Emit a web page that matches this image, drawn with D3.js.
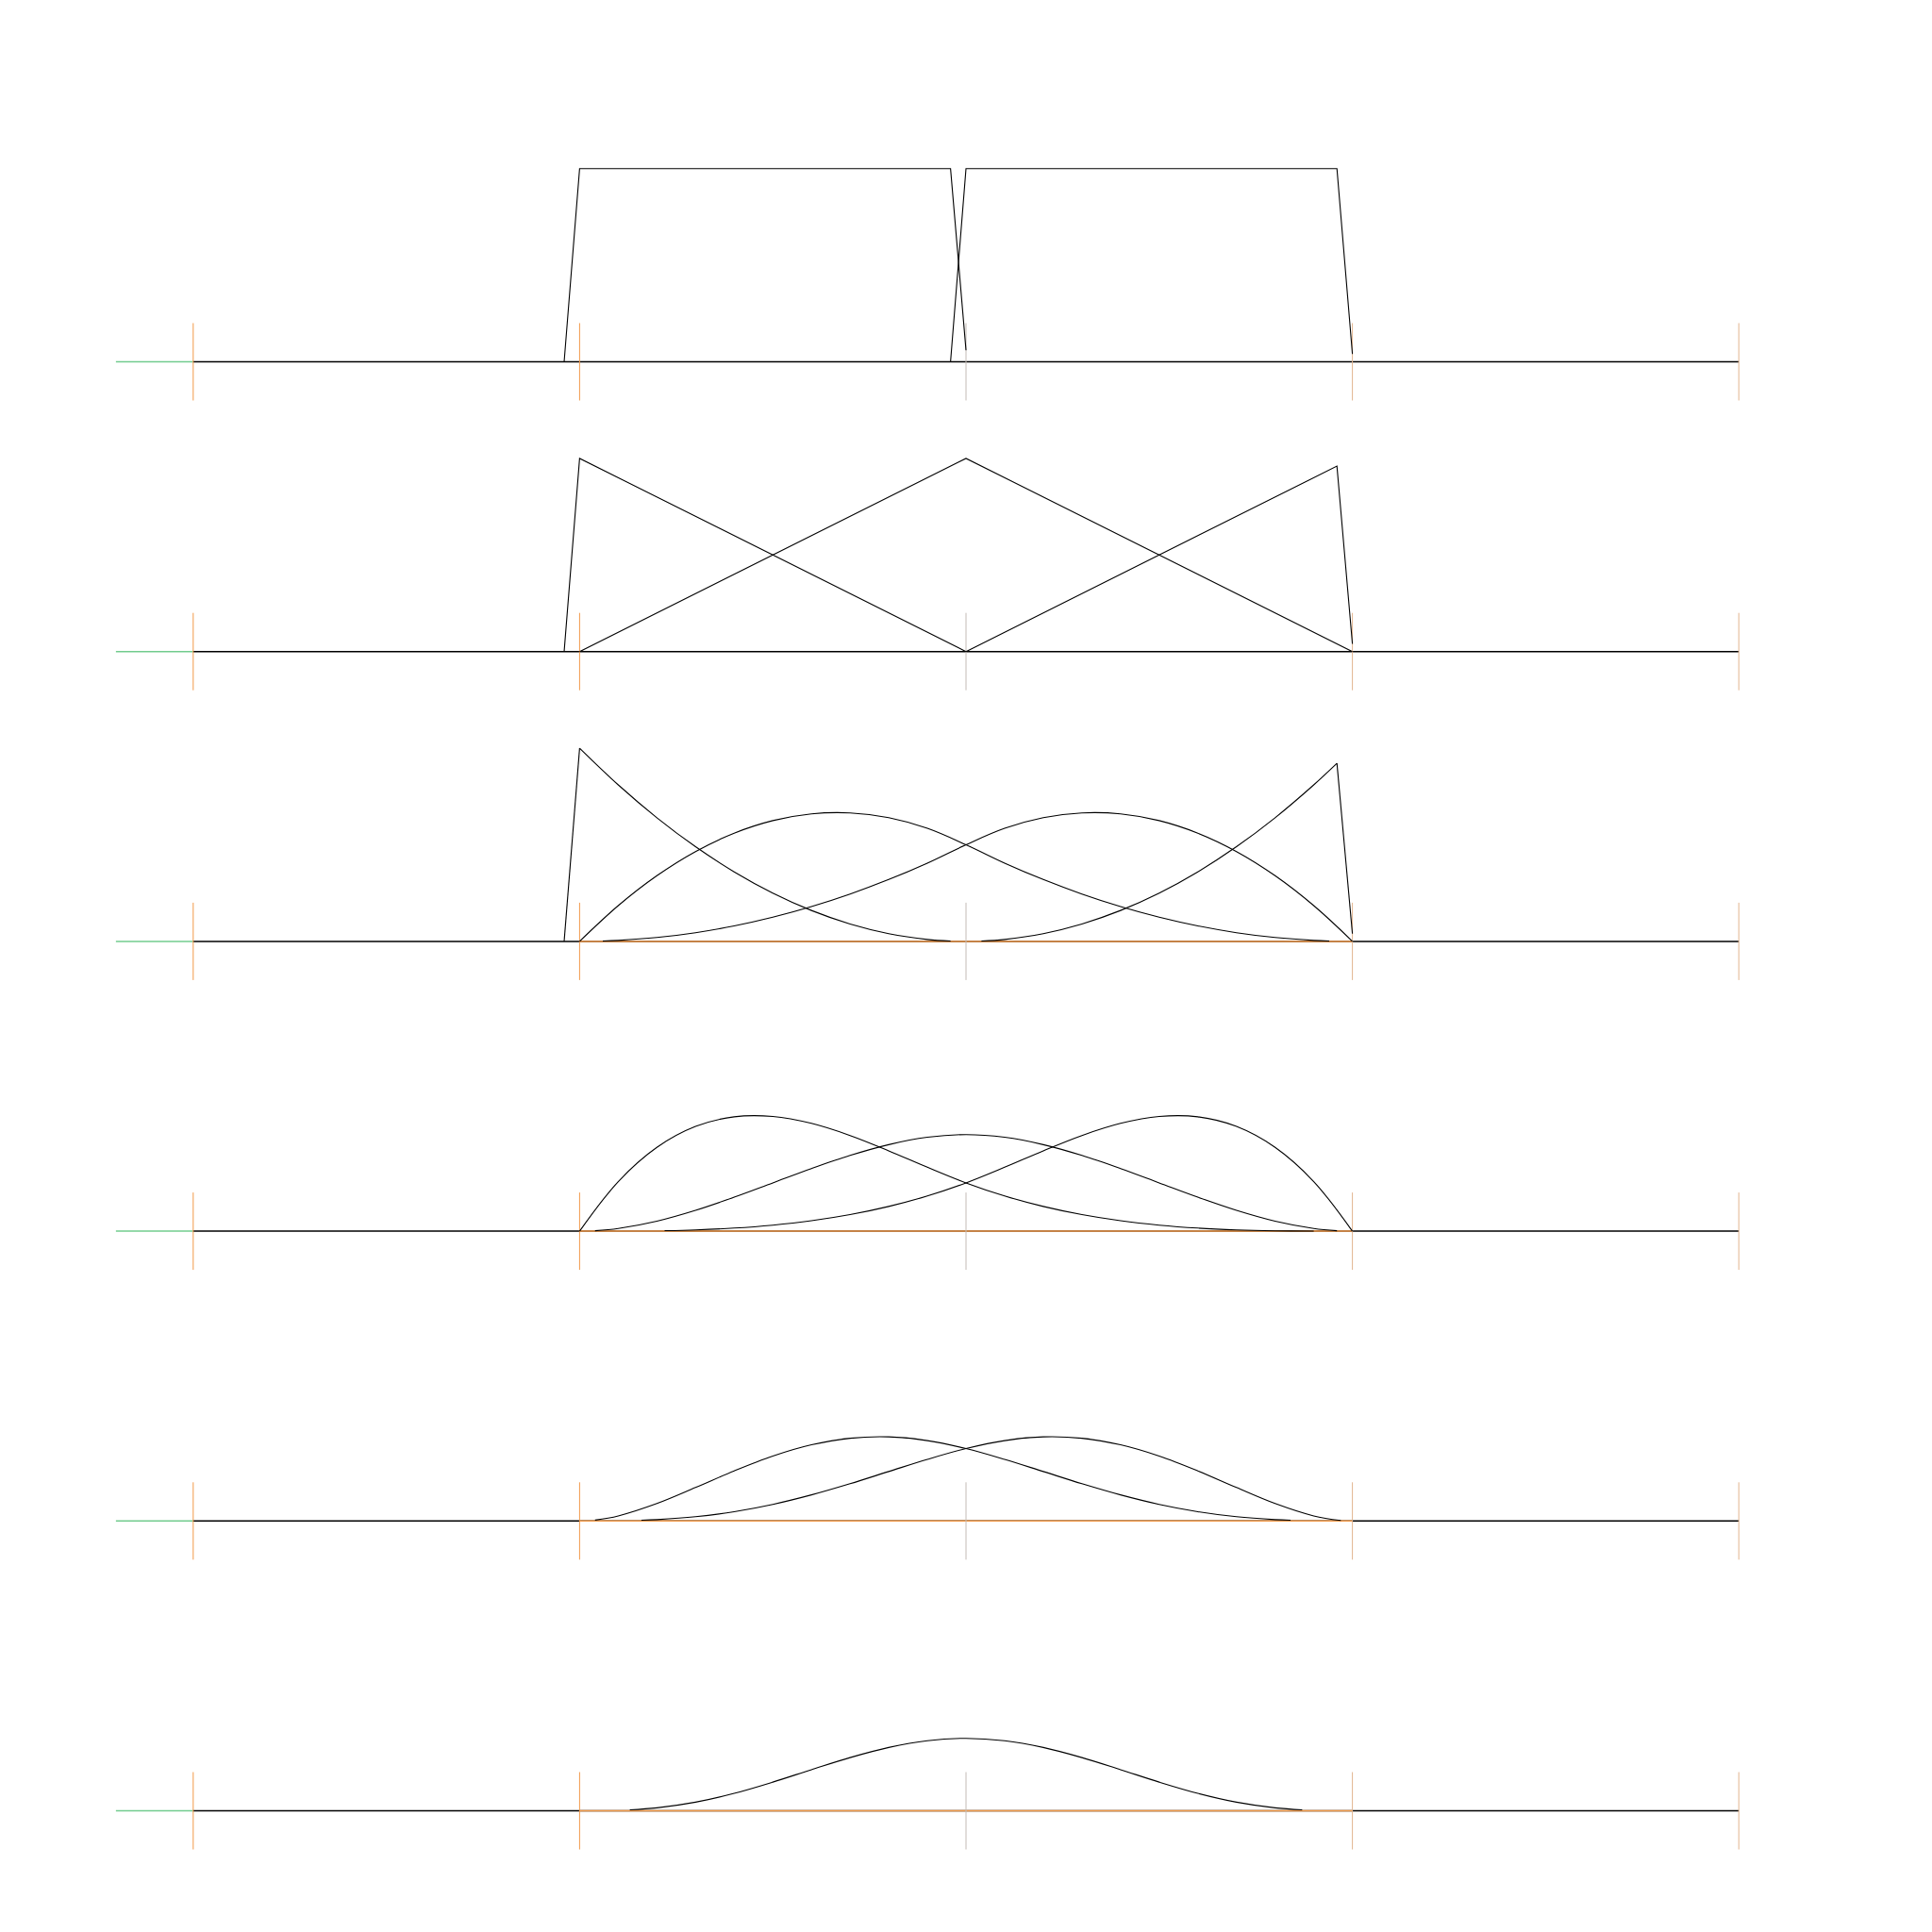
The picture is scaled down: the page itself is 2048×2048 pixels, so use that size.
<!DOCTYPE html>
<html>
<head>
<meta charset="utf-8">
<script src="https://d3js.org/d3.v7.min.js"></script>
<style>
  body { margin: 0; background: #fff; }
</style>
</head>
<body>
<div id="chart"></div>
<script>
// knot positions drawn as ticks, and where the left stub starts
var knotTicks = [0, 1, 2, 3, 4];
var stubStart = -0.2;
var degrees = [0, 1, 2, 3, 4, 5];

// basis functions, [t, value] pairs
var deg0Curves = [
  [[0.96, 0], [1, 1], [1.96, 1], [2, 0.06]],
  [[1.96, 0], [2, 1], [2.96, 1], [3, 0.04]]
];
var deg1Curves = [
  [[0.96, 0], [1, 1], [2, 0]],
  [[1, 0], [2, 1], [3, 0]],
  [[2, 0], [2.96, 0.96], [3, 0.04]]
];
var deg2Curves = [
  [[1, 1], [1.1, 0.81], [1.2, 0.64], [1.3, 0.49], [1.4, 0.36], [1.5, 0.25], [1.6, 0.16], [1.7, 0.09], [1.8, 0.04], [1.9, 0.01], [1.96, 0.0016]],
  [[1, 0], [1.1, 0.185], [1.2, 0.34], [1.3, 0.465], [1.4, 0.56], [1.5, 0.625], [1.6, 0.66], [1.7, 0.665], [1.8, 0.64], [1.9, 0.585], [2, 0.5],
   [2.1, 0.405], [2.2, 0.32], [2.3, 0.245], [2.4, 0.18], [2.5, 0.125], [2.6, 0.08], [2.7, 0.045], [2.8, 0.02], [2.9, 0.005], [2.94, 0.0018]],
  [[1.06, 0.0018], [1.1, 0.005], [1.2, 0.02], [1.3, 0.045], [1.4, 0.08], [1.5, 0.125], [1.6, 0.18], [1.7, 0.245], [1.8, 0.32], [1.9, 0.405], [2, 0.5],
   [2.1, 0.585], [2.2, 0.64], [2.3, 0.665], [2.4, 0.66], [2.5, 0.625], [2.6, 0.56], [2.7, 0.465], [2.8, 0.34], [2.9, 0.185], [3, 0]],
  [[2.04, 0.0016], [2.1, 0.01], [2.2, 0.04], [2.3, 0.09], [2.4, 0.16], [2.5, 0.25], [2.6, 0.36], [2.7, 0.49], [2.8, 0.64], [2.9, 0.81], [2.96, 0.9216]]
];
var deg2Edges = [
  [[0.96, 0], [1, 1]],
  [[2.96, 0.9216], [3, 0.04]]
];
var deg3Curves = [
  [[1, 0], [1.1, 0.2568], [1.2, 0.434], [1.3, 0.5423], [1.4, 0.592], [1.5, 0.5938], [1.6, 0.558], [1.7, 0.4953], [1.8, 0.416], [1.9, 0.3308], [2, 0.25],
   [2.1, 0.1823], [2.2, 0.128], [2.3, 0.0858], [2.4, 0.054], [2.5, 0.0313], [2.6, 0.016], [2.7, 0.0068], [2.8, 0.002], [2.9, 0.0003]],
  [[1.04, 0.0023], [1.1, 0.014], [1.2, 0.052], [1.3, 0.108], [1.4, 0.176], [1.5, 0.25], [1.6, 0.324], [1.7, 0.392], [1.8, 0.448], [1.9, 0.486], [2, 0.5],
   [2.1, 0.486], [2.2, 0.448], [2.3, 0.392], [2.4, 0.324], [2.5, 0.25], [2.6, 0.176], [2.7, 0.108], [2.8, 0.052], [2.9, 0.014], [2.96, 0.0023]],
  [[1.22, 0.0027], [1.3, 0.0068], [1.4, 0.016], [1.5, 0.0313], [1.6, 0.054], [1.7, 0.0858], [1.8, 0.128], [1.9, 0.1823], [2, 0.25],
   [2.1, 0.3308], [2.2, 0.416], [2.3, 0.4953], [2.4, 0.558], [2.5, 0.5938], [2.6, 0.592], [2.7, 0.5423], [2.8, 0.434], [2.9, 0.2568], [3, 0]]
];
var deg4Curves = [
  [[1.04, 0.0045], [1.1, 0.0261], [1.2, 0.0902], [1.3, 0.1731], [1.4, 0.2592], [1.5, 0.3359], [1.6, 0.3942], [1.7, 0.4281], [1.8, 0.4352], [1.9, 0.4161], [2, 0.375],
   [2.1, 0.3189], [2.2, 0.256], [2.3, 0.1929], [2.4, 0.135], [2.5, 0.0859], [2.6, 0.048], [2.7, 0.0219], [2.8, 0.007], [2.84, 0.0037]],
  [[1.16, 0.0037], [1.2, 0.007], [1.3, 0.0219], [1.4, 0.048], [1.5, 0.0859], [1.6, 0.135], [1.7, 0.1929], [1.8, 0.256], [1.9, 0.3189], [2, 0.375],
   [2.1, 0.4161], [2.2, 0.4352], [2.3, 0.4281], [2.4, 0.3942], [2.5, 0.3359], [2.6, 0.2592], [2.7, 0.1731], [2.8, 0.0902], [2.9, 0.0261], [2.97, 0.0026]]
];
var deg5Curves = [
  [[1.13, 0.0047], [1.2, 0.0153], [1.3, 0.0446], [1.4, 0.0902], [1.5, 0.1484], [1.6, 0.2128], [1.7, 0.2753], [1.8, 0.3277], [1.9, 0.3627], [2, 0.375],
   [2.1, 0.3627], [2.2, 0.3277], [2.3, 0.2753], [2.4, 0.2128], [2.5, 0.1484], [2.6, 0.0902], [2.7, 0.0446], [2.8, 0.0153], [2.87, 0.0047]]
];

var rowCurves = [deg0Curves, deg1Curves, deg2Curves, deg3Curves, deg4Curves, deg5Curves];
var rowEdges = [[], [], deg2Edges, [], [], []];

var W = 2048, H = 2048;
var orange = "#f29a4a", green = "#72cc8e", tickGrey = "#c4bcb6", tickTan = "#e2b48e";

var svg = d3.select("#chart").append("svg")
  .attr("width", W).attr("height", H)
  .style("background", "#fff");

var x = d3.scaleLinear().domain([0, 4]).range([204.8, 1843.2]);

degrees.forEach(function (deg, r) {
  var base = 383.5 + r * 307.2;
  var y = d3.scaleLinear().domain([0, 1]).range([base, base - 204.8]);
  var g = svg.append("g");
  var line = d3.line()
    .x(function (d) { return x(d[0]); })
    .y(function (d) { return y(d[1]); });

  // green stub on the left
  g.append("line")
    .attr("x1", x(stubStart)).attr("x2", x(0))
    .attr("y1", y(0)).attr("y2", y(0))
    .style("stroke", green).style("stroke-width", 1.5);

  // baseline: black outside the interior, orange inside from degree 2 on
  g.append("line")
    .attr("x1", x(0)).attr("x2", x(4))
    .attr("y1", y(0)).attr("y2", y(0))
    .style("stroke", "#000").style("stroke-width", 1.5);
  if (deg >= 2) {
    g.append("line")
      .attr("x1", x(1)).attr("x2", x(3))
      .attr("y1", y(0)).attr("y2", y(0))
      .style("stroke", orange).style("stroke-width", 1.5);
  }

  // knot ticks
  g.selectAll(".tick").data(knotTicks).enter().append("line")
    .attr("x1", function (d) { return x(d); })
    .attr("x2", function (d) { return x(d); })
    .attr("y1", base - 41).attr("y2", base + 41)
    .style("stroke", function (d) { return d < 2 ? orange : (d == 2 ? tickGrey : tickTan); })
    .style("stroke-width", 1);

  // the basis functions
  var smooth = deg >= 2;
  g.selectAll(".curve").data(rowCurves[r]).enter().append("path")
    .attr("d", line.curve(smooth ? d3.curveCatmullRom : d3.curveLinear))
    .style("fill", "none").style("stroke", "#000").style("stroke-width", 1.1);

  g.selectAll(".edge").data(rowEdges[r]).enter().append("path")
    .attr("d", d3.line()
      .x(function (d) { return x(d[0]); })
      .y(function (d) { return y(d[1]); }))
    .style("fill", "none").style("stroke", "#000").style("stroke-width", 1.1);
});
</script>
</body>
</html>
